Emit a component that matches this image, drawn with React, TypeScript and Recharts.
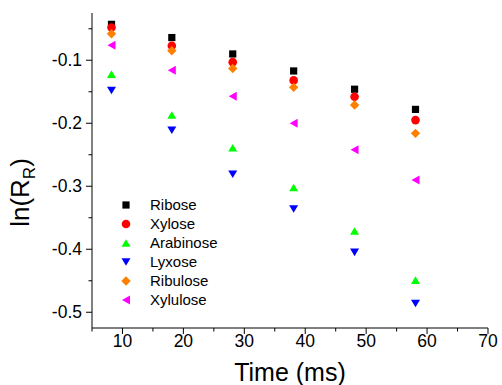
import React from "react";
import { ScatterChart, Scatter, XAxis, YAxis, Legend } from "recharts";

const times = [8.2, 18.1, 28.1, 38.1, 48.1, 58.1];
const ribose = [-0.043, -0.064, -0.09, -0.117, -0.146, -0.178];
const xylose = [-0.048, -0.077, -0.103, -0.132, -0.158, -0.195];
const arabinose = [-0.122, -0.187, -0.239, -0.302, -0.371, -0.449];
const lyxose = [-0.148, -0.211, -0.281, -0.336, -0.405, -0.486];
const ribulose = [-0.058, -0.085, -0.113, -0.143, -0.171, -0.216];
const xylulose = [-0.076, -0.116, -0.157, -0.2, -0.242, -0.29];

const seriesNames = ["Ribose", "Xylose", "Arabinose", "Lyxose", "Ribulose", "Xylulose"];
const seriesValues = [ribose, xylose, arabinose, lyxose, ribulose, xylulose];
const seriesColors = ["#000000", "#ff0000", "#00ff00", "#0000ff", "#ff8000", "#ff00ff"];
const seriesShapes = ["square", "circle", "up", "down", "diamond", "left"];

const xTicks = [5, 10, 15, 20, 25, 30, 35, 40, 45, 50, 55, 60, 65, 70];
const yTicks = [-0.5, -0.45, -0.4, -0.35, -0.3, -0.25, -0.2, -0.15, -0.1, -0.05];

const FONT = "'Liberation Sans', Arial, Helvetica, sans-serif";

function Marker({ kind, cx, cy, color }: { kind: string; cx: number; cy: number; color: string }) {
  switch (kind) {
    case "square":
      return <rect x={cx - 3.6} y={cy - 3.6} width={7.2} height={7.2} fill={color} />;
    case "circle":
      return <circle cx={cx} cy={cy} r={4.3} fill={color} />;
    case "up":
      return <polygon points={`${cx},${cy - 3.8} ${cx + 4.5},${cy + 3.8} ${cx - 4.5},${cy + 3.8}`} fill={color} />;
    case "down":
      return <polygon points={`${cx},${cy + 3.8} ${cx + 4.5},${cy - 3.8} ${cx - 4.5},${cy - 3.8}`} fill={color} />;
    case "diamond":
      return <polygon points={`${cx},${cy - 4.7} ${cx + 4.7},${cy} ${cx},${cy + 4.7} ${cx - 4.7},${cy}`} fill={color} />;
    case "left":
      return <polygon points={`${cx - 4},${cy} ${cx + 4},${cy - 4.5} ${cx + 4},${cy + 4.5}`} fill={color} />;
    default:
      return null;
  }
}

const XTick = (props: any) => {
  const { x, y, payload } = props;
  const v = payload.value;
  const major = Math.round(v) % 10 === 0;
  return (
    <g>
      <line x1={x} x2={x} y1={y} y2={y + (major ? 6 : 3.5)} stroke="#000" strokeWidth={1} />
      {major && (
        <text x={x} y={y + 19} textAnchor="middle" fontSize={17.5} fontFamily={FONT} fill="#000">
          {v}
        </text>
      )}
    </g>
  );
};

const YTick = (props: any) => {
  const { x, y, payload } = props;
  const v = payload.value;
  const major = Math.abs(Math.round(v * 100)) % 10 === 0;
  return (
    <g>
      <line x1={x - (major ? 6 : 3.5)} x2={x} y1={y} y2={y} stroke="#000" strokeWidth={1} />
      {major && (
        <text x={x - 10} y={y + 6} textAnchor="end" fontSize={17.5} fontFamily={FONT} fill="#000">
          {v.toFixed(1)}
        </text>
      )}
    </g>
  );
};

const XTitle = (props: any) => {
  const vb = props.viewBox;
  return (
    <text x={vb.x + vb.width / 2} y={vb.y + 53} textAnchor="middle" fontSize={25} fontFamily={FONT} fill="#000">
      Time (ms)
    </text>
  );
};

const YTitle = (props: any) => {
  const vb = props.viewBox;
  const cx = vb.x + 29;
  const cy = vb.y + vb.height / 2 + 22;
  return (
    <text
      x={cx}
      y={cy}
      transform={`rotate(-90, ${cx}, ${cy})`}
      textAnchor="middle"
      fontSize={26}
      fontFamily={FONT}
      fill="#000"
    >
      <tspan>ln(R</tspan>
      <tspan fontSize={17} dy={6}>R</tspan>
      <tspan dy={-6}>)</tspan>
    </text>
  );
};

const LegendContent = () => (
  <div style={{ fontFamily: FONT, fontSize: 15, color: "#000" }}>
    {seriesNames.map((n, i) => (
      <div key={n} style={{ display: "flex", alignItems: "center", height: 18.9 }}>
        <svg width={16} height={16} style={{ display: "block" }}>
          <Marker kind={seriesShapes[i]} cx={8} cy={8} color={seriesColors[i]} />
        </svg>
        <span style={{ marginLeft: 16, lineHeight: "18px" }}>{n}</span>
      </div>
    ))}
  </div>
);

export default function App() {
  const data = seriesValues.map((vals) => times.map((t, j) => ({ x: t, y: vals[j] })));
  return (
    <div style={{ position: "absolute", left: 0, top: 0, width: 502, height: 385, background: "#fff" }}>
      <ScatterChart width={502} height={385} margin={{ top: 13, right: 14, bottom: 0, left: 0 }}>
        <XAxis
          type="number"
          dataKey="x"
          domain={[5, 70]}
          ticks={xTicks}
          interval={0}
          height={57}
          tickSize={0}
          tickMargin={0}
          tickLine={false}
          tick={<XTick />}
          axisLine={{ stroke: "#000", strokeWidth: 1 }}
          allowDataOverflow
          label={<XTitle />}
        />
        <YAxis
          type="number"
          dataKey="y"
          domain={[-0.525, -0.025]}
          ticks={yTicks}
          interval={0}
          width={92}
          tickSize={0}
          tickMargin={0}
          tickLine={false}
          tick={<YTick />}
          axisLine={{ stroke: "#000", strokeWidth: 1 }}
          allowDataOverflow
          label={<YTitle />}
        />
        <Legend
          layout="vertical"
          align="center"
          verticalAlign="middle"
          wrapperStyle={{ left: 118, top: 196, width: 120 }}
          content={<LegendContent />}
        />
        {seriesNames.map((n, i) => (
          <Scatter
            key={n}
            name={n}
            data={data[i]}
            fill={seriesColors[i]}
            isAnimationActive={false}
            shape={(p: any) => <Marker kind={seriesShapes[i]} cx={p.cx} cy={p.cy} color={seriesColors[i]} />}
          />
        ))}
      </ScatterChart>
    </div>
  );
}
